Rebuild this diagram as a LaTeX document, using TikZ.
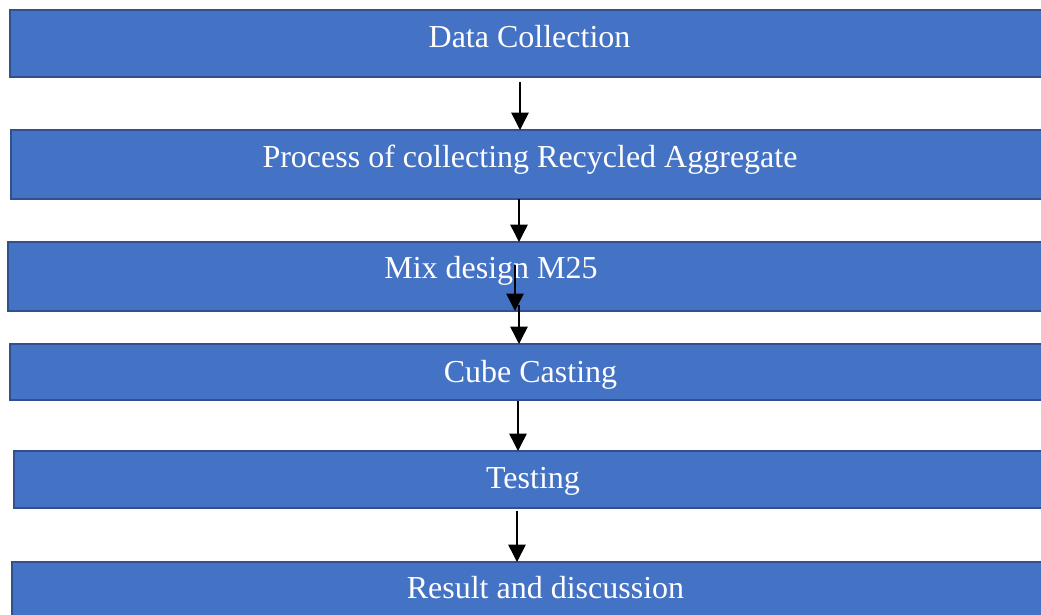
\documentclass[tikz,border=0pt]{standalone}
\usepackage{fontspec}
\setmainfont{Liberation Serif}
\usetikzlibrary{arrows.meta}
\definecolor{boxfill}{HTML}{4472C4}
\definecolor{boxline}{HTML}{2F528F}
\tikzset{
  stage/.style={draw=boxline, fill=boxfill, line width=2.1pt, rectangle,
    anchor=north west, outer sep=0pt, inner sep=0pt, minimum width=787.5pt},
  stagetext/.style={text=white, anchor=base, inner sep=0pt,
    font=\fontsize{24}{29}\selectfont},
  flow/.style={draw=black, line width=1.1pt,
    -{Triangle[length=13pt, width=13pt]}}
}
\begin{document}
\begin{tikzpicture}[x=0.75pt, y=-0.75pt]
\useasboundingbox (0,0) rectangle (1041,614);
\clip (0,0) rectangle (1041,614);

% process stages
\node[stage, minimum height=50.25pt] (b1) at (10,10) {};
\node[stage, minimum height=51.75pt] (b2) at (11,130) {};
\node[stage, minimum height=51.75pt] (b3) at (8,242) {};
\node[stage, minimum height=42pt]    (b4) at (10,344) {};
\node[stage, minimum height=42.75pt] (b5) at (14,451) {};
\node[stage, minimum height=51pt]    (b6) at (12,562) {};

% stage labels
\node[stagetext] (l1) at (529.5,47)  {Data Collection};
\node[stagetext] (l2) at (530,167)   {Process of collecting Recycled Aggregate};
\node[stagetext] (l3) at (491,278)   {Mix design M25};
\node[stagetext] (l4) at (530.5,382) {Cube Casting};
\node[stagetext] (l5) at (533,488)   {Testing};
\node[stagetext] (l6) at (545.5,598) {Result and discussion};

% arrow tails
\coordinate (t1) at (520,82);
\coordinate (t2) at (519,199);
\coordinate (t3) at (515,265);
\coordinate (t4) at (519,305);
\coordinate (t5) at (518,401);
\coordinate (t6) at (517,511);

% connectors
\draw[flow] (t1) -- (t1 |- b2.north);
\draw[flow] (t2) -- (t2 |- b3.north);
\draw[flow] (t3) -- (t3 |- b3.south);
\draw[flow] (t4) -- (t4 |- b4.north);
\draw[flow] (t5) -- (t5 |- b5.north);
\draw[flow] (t6) -- (t6 |- b6.north);
\end{tikzpicture}
\end{document}
